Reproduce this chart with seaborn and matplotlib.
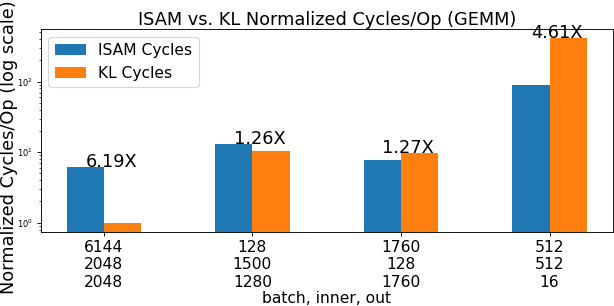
import matplotlib
matplotlib.use("Agg")
import matplotlib.pyplot as plt
import seaborn as sns
import pandas as pd

# Data
configs = ["6144\n2048\n2048", "128\n1500\n1280", "1760\n128\n1760", "512\n512\n16"]
isam_cycles = [6.19, 13.1, 7.75, 90.0]
kl_cycles = [1.0, 10.4, 9.84, 415.0]
ratio_labels = ["6.19X", "1.26X", "1.27X", "4.61X"]
series_names = ["ISAM Cycles", "KL Cycles"]
colors = ["#1f77b4", "#ff7f0e"]

rows = []
for c, a, b in zip(configs, isam_cycles, kl_cycles):
    rows.append({"config": c, "series": series_names[0], "value": a})
    rows.append({"config": c, "series": series_names[1], "value": b})
df = pd.DataFrame(rows)

fig = plt.figure(figsize=(614 / 80, 306 / 80), dpi=80)
ax = fig.add_axes([40.7 / 614, 1 - 232 / 306, (612.7 - 40.7) / 614, (232 - 29) / 306])

sns.barplot(data=df, x="config", y="value", hue="series", order=configs,
            hue_order=series_names, palette=colors, width=0.5, gap=0,
            saturation=1, ax=ax, errorbar=None)
ax.set_yscale("log")
ax.set_ylim(0.738, 558)
ax.set_xlim(-0.425, 3.425)

for i, (a, b, lab) in enumerate(zip(isam_cycles, kl_cycles, ratio_labels)):
    ax.text(i - 0.125, max(a, b), lab, fontsize=16)

ax.set_title("ISAM vs. KL Normalized Cycles/Op (GEMM)", fontsize=16, pad=4)
ax.set_ylabel("Normalized Cycles/Op (log scale)", fontsize=16)
ax.yaxis.set_label_coords(-0.0405, 0.42)
ax.set_xlabel("batch, inner, out", fontsize=14, labelpad=1)
ax.tick_params(axis="x", labelsize=14)
ax.tick_params(axis="y", labelsize=7.5)
ax.legend(loc="upper left", fontsize=14)

fig.savefig("out.png", dpi=80)
